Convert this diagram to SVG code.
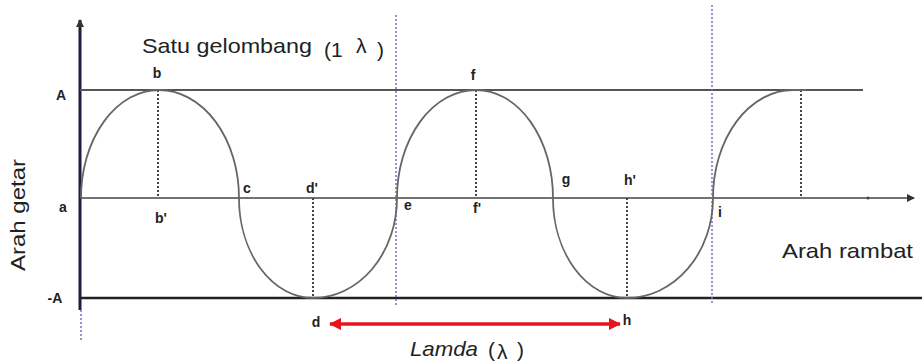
<svg xmlns="http://www.w3.org/2000/svg" width="922" height="363" viewBox="0 0 922 363">
<style>
.lbl{font-family:"Liberation Sans",Arial,sans-serif;font-weight:bold;font-size:14px;fill:#222;text-anchor:middle}
.txt{font-family:"Liberation Sans",Arial,sans-serif;font-size:21px;fill:#222}
.dotk{stroke:#444;stroke-width:2;stroke-dasharray:2 2;fill:none}
.dotb{stroke:#7070d0;stroke-width:1.5;stroke-dasharray:2 2;fill:none}
.wave{stroke:#666;stroke-width:1.8;fill:none}
</style>
<defs>
<marker id="ah" markerWidth="8" markerHeight="8" refX="7" refY="4" orient="auto" markerUnits="userSpaceOnUse">
<path d="M0,0 L8,4 L0,8 z" fill="#333"/>
</marker>
<marker id="rh" markerWidth="12" markerHeight="12" refX="11" refY="6" orient="auto-start-reverse" markerUnits="userSpaceOnUse">
<path d="M0,0 L12,6 L0,12 z" fill="#e8141c"/>
</marker>
</defs>
<rect width="922" height="363" fill="#fff"/>
<g id="axes">
<line x1="80" y1="310" x2="80" y2="20" stroke="#1c1c3c" stroke-width="3" marker-end="url(#ah)"/>
<line x1="80" y1="90" x2="863" y2="90" stroke="#555" stroke-width="2"/>
<line x1="80" y1="198" x2="914" y2="198" stroke="#444" stroke-width="1.5" marker-end="url(#ah)"/>
<line x1="80" y1="298" x2="922" y2="298" stroke="#222" stroke-width="2.5"/>
<circle cx="868" cy="198" r="1.5" fill="#444"/>
</g>
<g id="guides">
<line class="dotb" x1="81" y1="310" x2="81" y2="340"/>
<line class="dotb" x1="396" y1="15" x2="396" y2="305"/>
<line class="dotb" x1="712" y1="5" x2="712" y2="305"/>
<line class="dotk" x1="158" y1="90" x2="158" y2="198"/>
<line class="dotk" x1="313" y1="198" x2="313" y2="298"/>
<line class="dotk" x1="476" y1="90" x2="476" y2="198"/>
<line class="dotk" x1="627" y1="198" x2="627" y2="298"/>
<line class="dotk" x1="801" y1="90" x2="801" y2="198"/>
</g>
<g id="wave">
<path class="wave" d="M81,198 A78,108 0 0 1 159,90 A80,108 0 0 1 239,198 A74,100 0 0 0 313,298 A84,100 0 0 0 397,198 A79,108 0 0 1 476,90 A77,108 0 0 1 553,198 A74,100 0 0 0 627,298 A86,100 0 0 0 713,198 A80,108 0 0 1 793,90 L806,90"/>
</g>
<g id="labels">
<text class="lbl" x="61" y="100">A</text>
<text class="lbl" x="63" y="212">a</text>
<text class="lbl" x="55" y="303">-A</text>
<text class="lbl" x="157" y="78">b</text>
<text class="lbl" x="161" y="223">b'</text>
<text class="lbl" x="247" y="193">c</text>
<text class="lbl" x="312" y="193">d'</text>
<text class="lbl" x="408" y="210">e</text>
<text class="lbl" x="473" y="80">f</text>
<text class="lbl" x="477" y="213">f'</text>
<text class="lbl" x="566" y="184">g</text>
<text class="lbl" x="630" y="185">h'</text>
<text class="lbl" x="720" y="217">i</text>
<text class="lbl" x="316" y="327">d</text>
<text class="lbl" x="627" y="325">h</text>
</g>
<g id="title">
<text class="txt" x="142" y="53" font-size="22" textLength="170" lengthAdjust="spacingAndGlyphs">Satu gelombang</text>
<text class="txt" x="324" y="57" font-size="19">(1</text>
<text class="txt" x="356" y="53" font-size="28">λ</text>
<text class="txt" x="377" y="57" font-size="19">)</text>
</g>
<g id="getar">
<text class="txt" transform="translate(25,215) rotate(-90)" text-anchor="middle" textLength="112" lengthAdjust="spacingAndGlyphs">Arah getar</text>
</g>
<g id="rambat">
<text class="txt" x="782" y="258" textLength="131" lengthAdjust="spacingAndGlyphs">Arah rambat</text>
</g>
<g id="connectors">
<line x1="330" y1="324" x2="620" y2="324" stroke="#e8141c" stroke-width="3.5" marker-start="url(#rh)" marker-end="url(#rh)"/>
</g>
<g id="lamda">
<text class="txt" x="410" y="356" font-style="italic" font-size="20" textLength="68" lengthAdjust="spacingAndGlyphs">Lamda</text>
<text class="txt" x="488" y="357" font-size="20">(</text>
<text class="txt" x="497" y="359" font-size="25">λ</text>
<text class="txt" x="517" y="357" font-size="20">)</text>
</g>
</svg>
